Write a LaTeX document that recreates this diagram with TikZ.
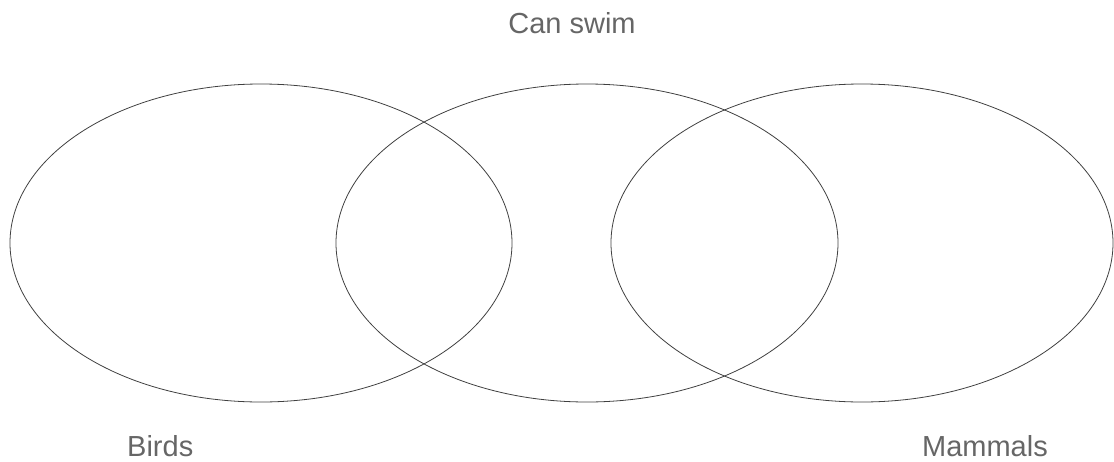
\documentclass[tikz,border=0pt]{standalone}
\usepackage{fontspec}
\setmainfont{Liberation Sans}
\usetikzlibrary{shapes.geometric}
\begin{document}
\begin{tikzpicture}[x=1pt,y=-1pt,
  setellipse/.style={draw=black!75, line width=0.8pt, ellipse, inner sep=0pt,
    minimum width=502pt, minimum height=318pt},
  lbl/.style={text=black!60, inner sep=0pt, font=\fontsize{29}{34}\selectfont}]
\useasboundingbox (0,0) rectangle (1114,461);
\node[setellipse] (birds) at (261,243) {};
\node[setellipse] (swim) at (587,243) {};
\node[setellipse] (mammals) at (862,243) {};
\node[lbl, anchor=base] (tswim) at (572,33) {Can swim};
\node[lbl, anchor=base west] (tbirds) at (127,456) {Birds};
\node[lbl, anchor=base east] (tmammals) at (1048,456) {Mammals};
\end{tikzpicture}
\end{document}
